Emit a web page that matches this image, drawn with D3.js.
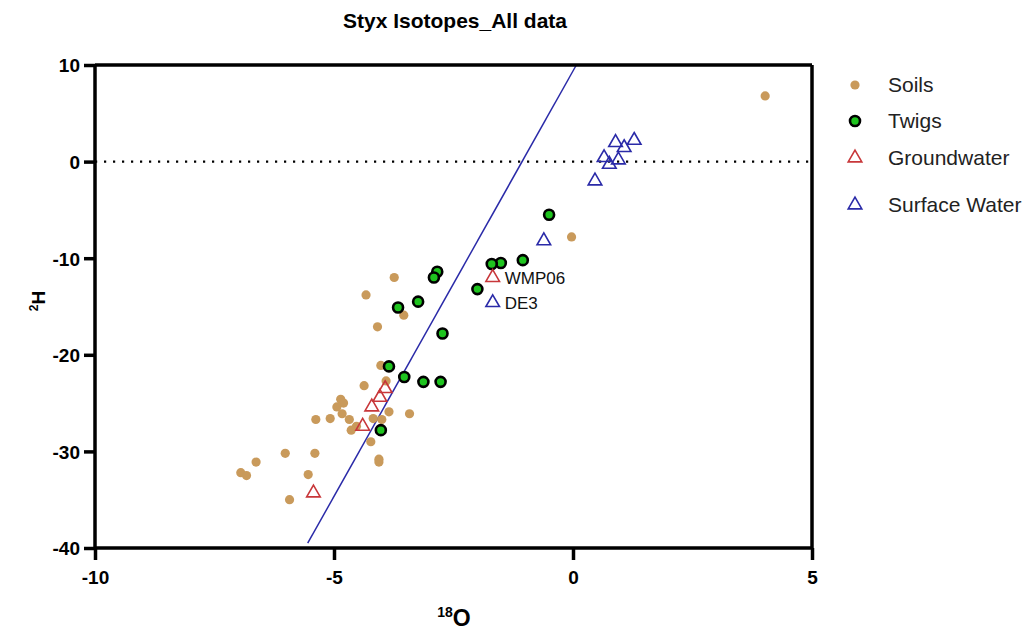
<!DOCTYPE html>
<html>
<head>
<meta charset="utf-8">
<script src="https://cdn.jsdelivr.net/npm/d3@7"></script>
<style>
  body { margin: 0; background: #fff; }
  text { font-family: "Liberation Sans", Arial, sans-serif; }
  .tick text { font-weight: bold; font-size: 19px; fill: #000; }
</style>
</head>
<body>
<div id="vis"></div>
<script>
const FRAME_WIDTH = 1027;
const FRAME_HEIGHT = 630;
const MARGINS = {left: 95, right: 215, top: 65, bottom: 82};

// data (d18O, d2H)
const soilsX = [-3.74, -4.33, -3.54, -4.09, -4.02, -3.91, -4.37, -3.10, -4.86, -4.80, -4.94, -4.83,
                -5.38, -5.08, -4.68, -4.53, -4.64, -4.18, -4.00, -3.85, -3.42, -4.23, -4.06, -4.06,
                -6.02, -5.40, -6.63, -6.95, -6.83, -5.54, -5.93, -0.03, 4.02];
const soilsY = [-12.0, -13.8, -15.9, -17.1, -21.1, -22.7, -23.2, -22.9, -24.6, -25.0, -25.4, -26.1,
                -26.7, -26.6, -26.7, -27.4, -27.8, -26.6, -26.7, -25.9, -26.1, -29.0, -30.8, -31.1,
                -30.2, -30.2, -31.1, -32.2, -32.5, -32.4, -35.0, -7.8, 6.8];

const twigsX = [-0.50, -1.05, -1.51, -1.70, -2.84, -2.91, -2.00, -3.24, -3.66, -2.73, -3.85, -3.53, -3.13, -2.77, -4.02];
const twigsY = [-5.5, -10.2, -10.5, -10.6, -11.4, -12.0, -13.2, -14.5, -15.1, -17.8, -21.2, -22.3, -22.8, -22.8, -27.8];

const gwX = [-1.68, -3.93, -4.04, -4.21, -4.40, -5.43];
const gwY = [-12.0, -23.5, -24.4, -25.4, -27.4, -34.3];
const gwLabels = ["WMP06", "", "", "", "", ""];

const swX = [1.28, 0.89, 1.07, 0.65, 0.95, 0.76, 0.46, -0.61, -1.68];
const swY = [2.2, 1.97, 1.45, 0.41, 0.17, -0.28, -2.0, -8.2, -14.6];
const swLabels = ["", "", "", "", "", "", "", "", "DE3"];

// reference line
const lineX = [-5.55, 0.07];
const lineY = [-39.5, 10];

const xTicks = [-10, -5, 0, 5];
const yTicks = [-40, -30, -20, -10, 0, 10];

const legendNames = ["Soils", "Twigs", "Groundwater", "Surface Water"];

const VIS_WIDTH = FRAME_WIDTH - MARGINS.left - MARGINS.right;
const VIS_HEIGHT = FRAME_HEIGHT - MARGINS.top - MARGINS.bottom;

const SOIL = "#c99a5b";
const TWIG = "#1fc41f";
const GW = "#c8373a";
const SW = "#2a2aa8";

const FRAME = d3.select("#vis")
  .append("svg")
    .attr("width", FRAME_WIDTH)
    .attr("height", FRAME_HEIGHT);

const X_SCALE = d3.scaleLinear().domain([-10, 5]).range([0, VIS_WIDTH]);
const Y_SCALE = d3.scaleLinear().domain([-40, 10]).range([VIS_HEIGHT, 0]);

const G = FRAME.append("g").attr("transform", `translate(${MARGINS.left},${MARGINS.top})`);

// dotted zero line
G.append("line")
  .attr("x1", X_SCALE(-10)).attr("x2", X_SCALE(5))
  .attr("y1", Y_SCALE(0)).attr("y2", Y_SCALE(0))
  .attr("stroke", "#000").attr("stroke-width", 2.2)
  .attr("stroke-dasharray", "2.2,6.8");

// reference line
G.append("line")
  .attr("x1", X_SCALE(lineX[0])).attr("y1", Y_SCALE(lineY[0]))
  .attr("x2", X_SCALE(lineX[1])).attr("y2", Y_SCALE(lineY[1]))
  .attr("stroke", SW).attr("stroke-width", 1.5);

// frame top + right
G.append("line").attr("x1", 0).attr("x2", VIS_WIDTH).attr("y1", 0).attr("y2", 0)
  .attr("stroke", "#000").attr("stroke-width", 3.5);
G.append("line").attr("x1", VIS_WIDTH).attr("x2", VIS_WIDTH).attr("y1", 0).attr("y2", VIS_HEIGHT)
  .attr("stroke", "#000").attr("stroke-width", 3.5);

// axes (plain hyphen for negatives, like the original)
const fmt = d => String(d);
const xAxis = G.append("g")
  .attr("transform", `translate(0,${VIS_HEIGHT})`)
  .call(d3.axisBottom(X_SCALE).tickValues(xTicks).tickFormat(fmt).tickSize(12).tickPadding(6));
const yAxis = G.append("g")
  .call(d3.axisLeft(Y_SCALE).tickValues(yTicks).tickFormat(fmt).tickSize(11).tickPadding(4));

[xAxis, yAxis].forEach(a => {
  a.select(".domain").attr("stroke", "#000").attr("stroke-width", 3.5)
    .attr("d", a === xAxis ? `M0,0H${VIS_WIDTH}` : `M0,0V${VIS_HEIGHT}`);
  a.selectAll(".tick line").attr("stroke", "#000").attr("stroke-width", 3.5);
});
xAxis.selectAll(".tick text").attr("dy", "0.95em");
yAxis.selectAll(".tick text").attr("dy", "0.36em");

// points
const soils = soilsX.map((x, i) => ({x: x, y: soilsY[i]}));
const twigs = twigsX.map((x, i) => ({x: x, y: twigsY[i]}));
const gw = gwX.map((x, i) => ({x: x, y: gwY[i], label: gwLabels[i]}));
const sw = swX.map((x, i) => ({x: x, y: swY[i], label: swLabels[i]}));

const tri = d3.symbol().type(d3.symbolTriangle).size(80);

G.selectAll(".soil")
  .data(soils).enter().append("circle")
    .attr("cx", d => X_SCALE(d.x)).attr("cy", d => Y_SCALE(d.y))
    .attr("r", 4.6).attr("fill", SOIL);

G.selectAll(".twig")
  .data(twigs).enter().append("circle")
    .attr("cx", d => X_SCALE(d.x)).attr("cy", d => Y_SCALE(d.y))
    .attr("r", 5).attr("fill", TWIG)
    .attr("stroke", "#000").attr("stroke-width", 2.6);

G.selectAll(".gw")
  .data(gw).enter().append("path")
    .attr("d", tri)
    .attr("transform", d => `translate(${X_SCALE(d.x)},${Y_SCALE(d.y)})`)
    .attr("fill", "none").attr("stroke", GW).attr("stroke-width", 1.6);

G.selectAll(".sw")
  .data(sw).enter().append("path")
    .attr("d", tri)
    .attr("transform", d => `translate(${X_SCALE(d.x)},${Y_SCALE(d.y)})`)
    .attr("fill", "none").attr("stroke", SW).attr("stroke-width", 1.6);

// point labels
G.selectAll(".lbl")
  .data(gw.concat(sw).filter(d => d.label))
  .enter().append("text")
    .attr("x", d => X_SCALE(d.x) + 12)
    .attr("y", d => Y_SCALE(d.y) + 6)
    .attr("font-size", 17).attr("fill", "#111")
    .text(d => d.label);

// title
FRAME.append("text")
  .attr("x", 455).attr("y", 28)
  .attr("text-anchor", "middle")
  .style("font-family", "'Liberation Sans Narrow', 'Liberation Sans', sans-serif")
  .attr("font-weight", "bold").attr("font-size", 21)
  .text("Styx Isotopes_All data");

// axis titles
const xl = FRAME.append("text")
  .attr("x", 454).attr("y", 626)
  .attr("text-anchor", "middle")
  .attr("font-weight", "bold").attr("font-size", 23);
xl.append("tspan").attr("font-size", 14).attr("dy", -9).text("18");
xl.append("tspan").attr("dy", 9).text("O");

const yl = FRAME.append("text")
  .attr("transform", "translate(45,301) rotate(-90)")
  .attr("text-anchor", "middle")
  .attr("font-weight", "bold").attr("font-size", 19);
yl.append("tspan").attr("font-size", 12).attr("dy", -7).text("2");
yl.append("tspan").attr("dy", 7).text("H");

// legend
const legendY = [85, 121, 158, 205];
const LEG = FRAME.append("g");
legendNames.forEach((name, i) => {
  const y = legendY[i];
  if (i === 0) {
    LEG.append("circle").attr("cx", 855).attr("cy", y).attr("r", 4.6).attr("fill", SOIL);
  } else if (i === 1) {
    LEG.append("circle").attr("cx", 855).attr("cy", y).attr("r", 5)
      .attr("fill", TWIG).attr("stroke", "#000").attr("stroke-width", 2.6);
  } else {
    LEG.append("path").attr("d", tri)
      .attr("transform", `translate(855,${y})`)
      .attr("fill", "none").attr("stroke", i === 2 ? GW : SW).attr("stroke-width", 1.6);
  }
  LEG.append("text").attr("x", 888).attr("y", y + 7)
    .attr("font-size", 21).attr("fill", "#222").text(name);
});
</script>
</body>
</html>
